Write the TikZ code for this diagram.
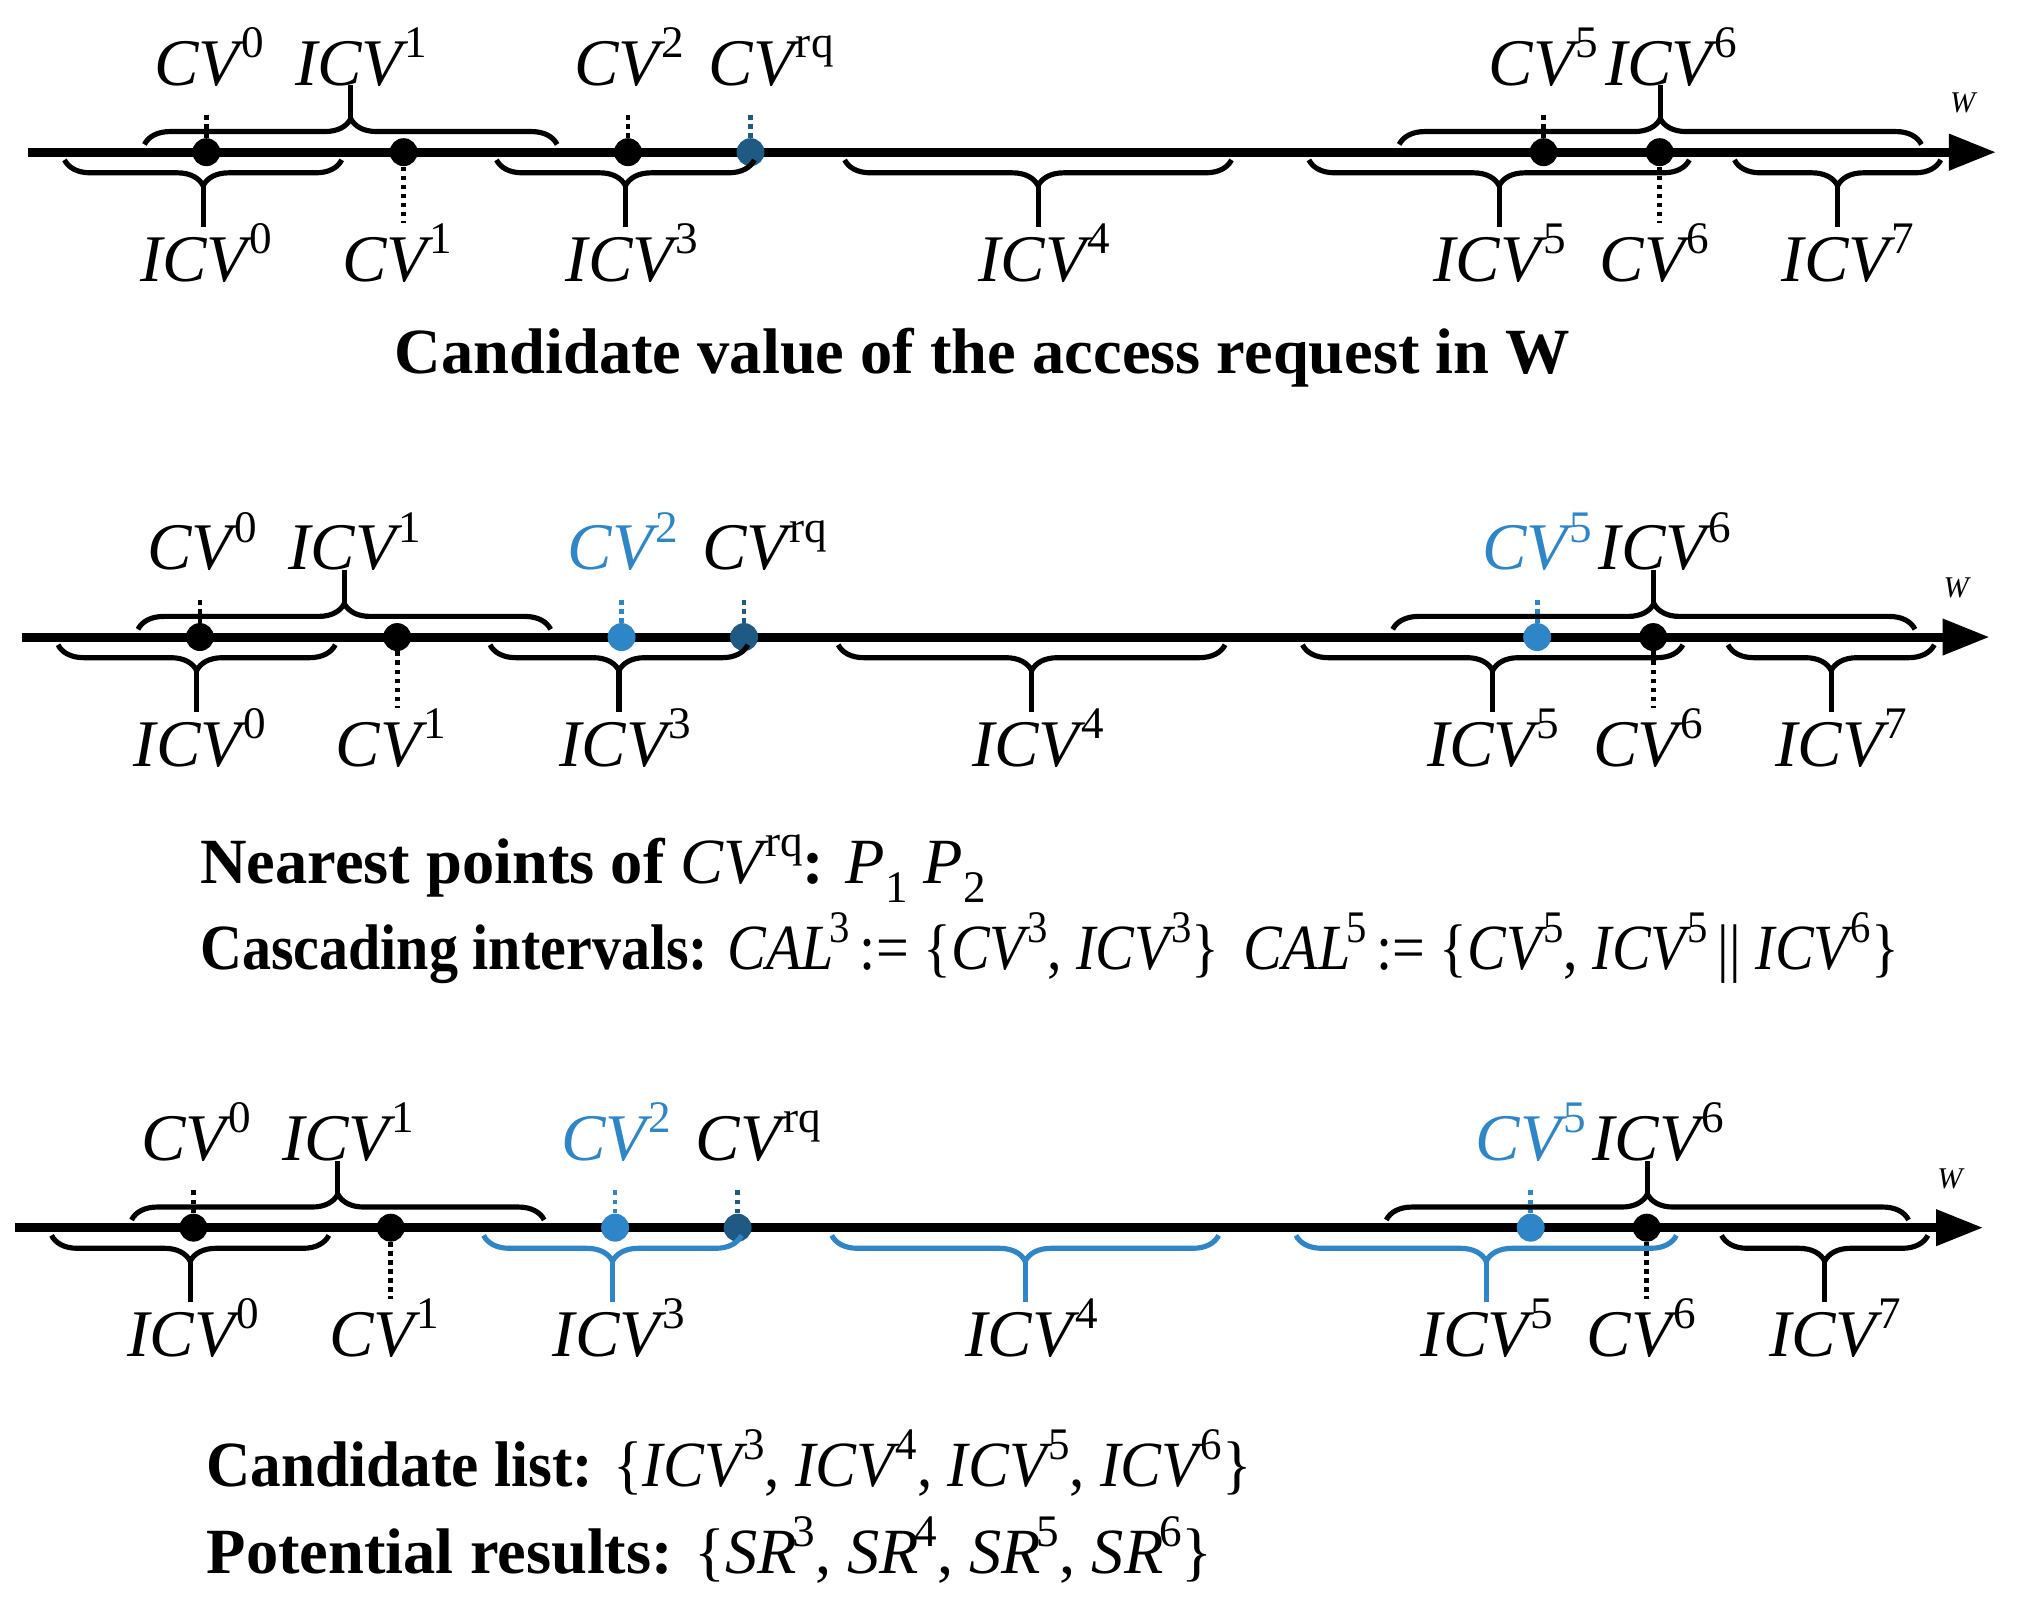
\documentclass[tikz,border=0pt]{standalone}
\usepackage{fontspec}
\setmainfont{Liberation Serif}
\usetikzlibrary{decorations.pathreplacing,arrows.meta}
\definecolor{dblue}{HTML}{1F5A85}
\definecolor{lblue}{HTML}{2E86C8}
\newcommand{\sups}[1]{\raisebox{0.42em}{\fontsize{21}{21}\selectfont\upshape #1}}
\newcommand{\mylab}[2]{\textit{#1}\kern-2pt\sups{#2}}
\newcommand{\panel}[8]{%
\begin{scope}[shift={(#2,#3)},name prefix=#1-]
 \coordinate (a0) at (22,0); \coordinate (a1) at (1548,0);
 \draw[axis] (a0) -- (a1);
 \node[wlab] (w) at (1522,-38) {W};
 \node[dot] (d0) at (160,0) {};
 \node[dot] (d1) at (313,0) {};
 \node[dot,fill=#4] (d2) at (487,0) {};
 \node[dot,fill=dblue] (dq) at (582,0) {};
 \node[dot,fill=#5] (d5) at (1197,0) {};
 \node[dot] (d6) at (1287,0) {};
 \node[lab] (l0) at (162,-52) {\mylab{CV}{0}};
 \node[lab] (l2) at (488,-52) {\color{#4}\mylab{CV}{2}};
 \node[lab] (lq) at (598,-52) {\mylab{CV}{rq}};
 \node[lab] (l5) at (1197,-52) {\color{#5}\mylab{CV}{5}};
 \node[lab] (li1) at (280,-52) {\mylab{ICV}{1}};
 \node[lab] (li6) at (1296,-52) {\mylab{ICV}{6}};
 \coordinate (t0) at (160,-32); \coordinate (t2) at (487,-32);
 \coordinate (tq) at (582,-32); \coordinate (t5) at (1197,-32);
 \draw[dots] (d0) -- (t0);
 \draw[dots,draw=#4] (d2) -- (t2);
 \draw[dots,draw=dblue] (dq) -- (tq);
 \draw[dots,draw=#5] (d5) -- (t5);
 \node[lab] (l1) at (308,100) {\mylab{CV}{1}};
 \node[lab] (l6) at (1283,100) {\mylab{CV}{6}};
 \coordinate (b1) at (313,55); \coordinate (b6) at (1287,55);
 \draw[dots] (d1) -- (b1);
 \draw[dots] (d6) -- (b6);
 \coordinate (u1a) at (112,-6); \coordinate (u1b) at (432,-6);
 \draw[brc] (u1a) -- (u1b);
 \coordinate (u1t) at (272,-26); \coordinate (u1s) at (272,-52);
 \draw[stem] (u1t) -- (u1s);
 \coordinate (u6a) at (1085,-6); \coordinate (u6b) at (1490,-6);
 \draw[brc] (u6a) -- (u6b);
 \coordinate (u6t) at (1287.5,-26); \coordinate (u6s) at (1287.5,-52);
 \draw[stem] (u6t) -- (u6s);
 \node[lab] (i0) at (160,100) {\mylab{ICV}{0}};
 \node[lab] (i3) at (490,100) {\mylab{ICV}{3}};
 \node[lab] (i4) at (810,100) {\mylab{ICV}{4}};
 \node[lab] (i5) at (1163,100) {\mylab{ICV}{5}};
 \node[lab] (i7) at (1433,100) {\mylab{ICV}{7}};
 \coordinate (v0a) at (265,6); \coordinate (v0b) at (50,6);
 \draw[brc] (v0a) -- (v0b);
 \coordinate (v0t) at (157.5,26); \coordinate (v0s) at (157.5,58);
 \draw[stem] (v0t) -- (v0s);
 \coordinate (v3a) at (585,6); \coordinate (v3b) at (385,6);
 \draw[brc,draw=#6] (v3a) -- (v3b);
 \coordinate (v3t) at (485,26); \coordinate (v3s) at (485,58);
 \draw[stem,draw=#6] (v3t) -- (v3s);
 \coordinate (v4a) at (955,6); \coordinate (v4b) at (655,6);
 \draw[brc,draw=#7] (v4a) -- (v4b);
 \coordinate (v4t) at (805,26); \coordinate (v4s) at (805,58);
 \draw[stem,draw=#7] (v4t) -- (v4s);
 \coordinate (v5a) at (1310,6); \coordinate (v5b) at (1015,6);
 \draw[brc,draw=#8] (v5a) -- (v5b);
 \coordinate (v5t) at (1162.5,26); \coordinate (v5s) at (1162.5,58);
 \draw[stem,draw=#8] (v5t) -- (v5s);
 \coordinate (v7a) at (1505,6); \coordinate (v7b) at (1345,6);
 \draw[brc] (v7a) -- (v7b);
 \coordinate (v7t) at (1425,26); \coordinate (v7s) at (1425,58);
 \draw[stem] (v7t) -- (v7s);
\end{scope}}
\begin{document}
\begin{tikzpicture}[x=0.6pt,y=-0.6pt,
 axis/.style={line width=4.2pt,-{Triangle[length=22pt,width=16pt]}},
 dot/.style={circle,fill=black,inner sep=0pt,minimum size=13pt},
 dots/.style={dotted,line width=2.2pt},
 brc/.style={line width=2.4pt,decorate,decoration={brace,amplitude=12pt}},
 stem/.style={line width=2.4pt},
 lab/.style={font=\fontsize{31}{34}\selectfont,inner sep=0pt,anchor=base},
 wlab/.style={font=\fontsize{14}{14}\selectfont\itshape,inner sep=0pt},
 txt/.style={font=\fontsize{30}{34}\selectfont\bfseries,inner sep=0pt,anchor=base west}]
\useasboundingbox (0,0) rectangle (1568,1250);
\panel{p1}{0}{118}{black}{black}{black}{black}{black}
\panel{p2}{-5}{494}{lblue}{lblue}{black}{black}{black}
\panel{p3}{-10}{952}{lblue}{lblue}{lblue}{lblue}{lblue}
\node[txt,anchor=base] (c1) at (762,290) {Candidate value of the access request in W};
\node[txt] (c2) at (155,685) {Nearest points of \mdseries\mylab{CV}{rq}\bfseries: \mdseries\textit{P}\raisebox{-0.3em}{\fontsize{21}{21}\selectfont 1} \textit{P}\raisebox{-0.3em}{\fontsize{21}{21}\selectfont 2}};
\node[txt] (c3) at (155,752) {\scalebox{0.9}[1]{Cascading intervals: \mdseries\mylab{CAL}{3}\,:= \{\mylab{CV}{3}, \mylab{ICV}{3}\}\, \mylab{CAL}{5}\,:= \{\mylab{CV}{5}, \mylab{ICV}{5}\,|| \mylab{ICV}{6}\}}};
\node[txt] (c4) at (160,1153) {\scalebox{0.95}[1]{Candidate list: \mdseries\{\mylab{ICV}{3}, \mylab{ICV}{4}, \mylab{ICV}{5}, \mylab{ICV}{6}\}}};
\node[txt] (c5) at (160,1220) {Potential results: \mdseries\{\mylab{SR}{3}, \mylab{SR}{4}, \mylab{SR}{5}, \mylab{SR}{6}\}};
\end{tikzpicture}
\end{document}
